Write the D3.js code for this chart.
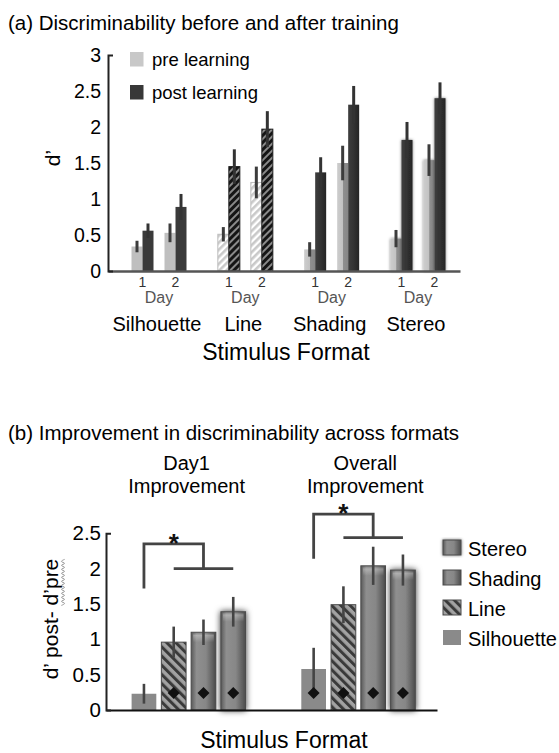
<!DOCTYPE html>
<html>
<head>
<meta charset="utf-8">
<script src="https://cdn.jsdelivr.net/npm/d3@7"></script>
<style>
  body { margin: 0; background: #fff; }
  svg { display: block; font-family: "Liberation Sans", Arial, Helvetica, sans-serif; }
  .title { font-size: 20.5px; fill: #000; }
  .tick-a text { font-size: 19.5px; fill: #000; }
  .tick-b text { font-size: 20.5px; fill: #000; }
  .day-tick { font-size: 14px; fill: #333; }
  .day-word { font-size: 16px; fill: #555; }
  .cat { font-size: 20px; fill: #000; }
  .xtitle { font-size: 23px; fill: #000; }
  .ytitle { font-size: 21px; fill: #000; }
  .legend { font-size: 18.5px; fill: #000; }
  .legend-b { font-size: 20px; fill: #000; }
  .group { font-size: 20px; fill: #000; }
</style>
</head>
<body>
<div id="vis"></div>
<script>
// ---- data ----
const FORMATS = ["Silhouette", "Line", "Shading", "Stereo"];
const DAYS = ["1", "2"];
const PHASES = ["pre", "post"];
const PHASE_LABELS = ["pre learning", "post learning"];

// panel (a): d' per format, [day 1, day 2]
const PRE_MEAN  = [[0.34, 0.53], [0.51, 1.23], [0.30, 1.50], [0.45, 1.54]];
const PRE_ERR   = [[0.08, 0.13], [0.10, 0.22], [0.10, 0.24], [0.12, 0.22]];
const POST_MEAN = [[0.56, 0.89], [1.45, 1.97], [1.37, 2.31], [1.82, 2.40]];
const POST_ERR  = [[0.10, 0.18], [0.24, 0.25], [0.21, 0.26], [0.25, 0.22]];
const TICKS_A = [0, 0.5, 1, 1.5, 2, 2.5, 3];

// panel (b): d' post - d' pre, per group, per format
const GROUPS = ["Day1", "Overall"];
const GROUP_LABELS = [["Day1", "Improvement"], ["Overall", "Improvement"]];
const GAIN_MEAN = [[0.23, 0.96, 1.10, 1.39], [0.58, 1.49, 2.04, 1.98]];
const GAIN_ERR  = [[0.14, 0.22, 0.18, 0.21], [0.30, 0.26, 0.27, 0.22]];
const MARKED    = [[false, true, true, true], [true, true, true, true]];
const MARK_LEVEL = 0.24;
const BRACKET_LOW = [1.72, 2.14];
const BRACKET_TOP = [2.35, 2.77];
const BRACKET_MID = [2.0, 2.44];
const TICKS_B = [0, 0.5, 1, 1.5, 2, 2.5];
const LEGEND_B = ["Stereo", "Shading", "Line", "Silhouette"];

// ---- layout ----
const FRAME_WIDTH = 559;
const FRAME_HEIGHT = 753;
const PANEL_A = {left: 108, right: 460, top: 55, bottom: 271};
const PANEL_B = {left: 106, right: 437, top: 533.3, bottom: 710};

const FRAME = d3.select("#vis")
                .append("svg")
                  .attr("width", FRAME_WIDTH)
                  .attr("height", FRAME_HEIGHT);

FRAME.append("rect").attr("width", FRAME_WIDTH).attr("height", FRAME_HEIGHT).attr("fill", "#fff");

// ---- fills: hatches, bevel gradients, soft shadow ----
const DEFS = FRAME.append("defs");

function hatch(id, bg, fg, angle, period, lw) {
  const p = DEFS.append("pattern")
      .attr("id", id)
      .attr("patternUnits", "userSpaceOnUse")
      .attr("width", period).attr("height", period)
      .attr("patternTransform", "rotate(" + angle + ")");
  p.append("rect").attr("width", period).attr("height", period).attr("fill", bg);
  p.append("rect").attr("width", lw).attr("height", period).attr("fill", fg);
}

function gradient(id, stops, vertical) {
  const g = DEFS.append("linearGradient")
      .attr("id", id)
      .attr("x1", 0).attr("y1", 0)
      .attr("x2", vertical ? 0 : 1).attr("y2", vertical ? 1 : 0);
  stops.forEach(([o, c, a]) => g.append("stop")
      .attr("offset", o).attr("stop-color", c).attr("stop-opacity", a === undefined ? 1 : a));
}

hatch("hatchPreA", "#ffffff", "#c9c9c9", 45, 5, 2.6);
hatch("hatchPostA", "#8a8a8a", "#151515", 45, 5, 3);
hatch("hatchB", "#a2a2a2", "#3a3a3a", -45, 6.5, 3);

gradient("shadePreA", [[0, "#cdcdcd"], [0.5, "#c2c2c2"], [0.56, "#8f8f8f"], [1, "#868686"]]);
gradient("shadePostA", [[0, "#3e3e3e"], [0.5, "#333"], [1, "#242424"]]);
gradient("shadeB", [[0, "#5a5a5a"], [0.22, "#8f8f8f"], [0.6, "#878787"], [1, "#4c4c4c"]]);
gradient("capB", [[0, "#fff", 0.0], [0.25, "#fff", 0.3], [1, "#fff", 0]], true);

function softShadow(id, sd, opacity) {
  const f = DEFS.append("filter").attr("id", id)
      .attr("x", "-60%").attr("y", "-15%").attr("width", "220%").attr("height", "130%");
  f.append("feGaussianBlur").attr("in", "SourceAlpha").attr("stdDeviation", sd).attr("result", "blur");
  f.append("feFlood").attr("flood-color", "#000").attr("flood-opacity", opacity);
  f.append("feComposite").attr("in2", "blur").attr("operator", "in").attr("result", "shadow");
  const m = f.append("feMerge");
  m.append("feMergeNode").attr("in", "shadow");
  m.append("feMergeNode").attr("in", "SourceGraphic");
}
softShadow("blurA", 1.8, 0.55);
softShadow("blurB", 3, 0.8);

const FILL_A = {
  Silhouette: {pre: "#bfbfbf", post: "#3a3a3a"},
  Line:       {pre: "url(#hatchPreA)", post: "url(#hatchPostA)"},
  Shading:    {pre: "url(#shadePreA)", post: "url(#shadePostA)"},
  Stereo:     {pre: "url(#shadePreA)", post: "url(#shadePostA)"}
};
const STROKE_A = {
  Line: {pre: "#bdbdbd", post: "#1e1e1e"}
};
const FILL_B = {
  Silhouette: "#8a8a8a",
  Line: "url(#hatchB)",
  Shading: "url(#shadeB)",
  Stereo: "url(#shadeB)"
};

// =====================================================================
// (a) Discriminability before and after training
// =====================================================================
FRAME.append("text").attr("class", "title").attr("x", 8).attr("y", 30)
     .text("(a) Discriminability before and after training");

const Y_A = d3.scaleLinear().domain([0, 3]).range([PANEL_A.bottom, PANEL_A.top]);
const X_FORMAT_A = d3.scalePoint().domain(FORMATS).range([159, 418]);
const X_DAY_A = d3.scalePoint().domain(DAYS).range([-16.5, 16.5]);
const X_PHASE_A = d3.scaleBand().domain(PHASES).range([-11, 11]);

const barsA = FORMATS.flatMap((f, i) => DAYS.flatMap((d, j) => PHASES.map((p) => ({
  format: f, day: d, phase: p,
  mean: (p === "pre" ? PRE_MEAN : POST_MEAN)[i][j],
  err: (p === "pre" ? PRE_ERR : POST_ERR)[i][j]
}))));

const barX = (d) => X_FORMAT_A(d.format) + X_DAY_A(d.day) + X_PHASE_A(d.phase);

FRAME.append("g").selectAll("rect")
  .data(barsA)
  .enter()
  .append("rect")
    .attr("x", barX)
    .attr("y", (d) => Y_A(d.mean))
    .attr("width", X_PHASE_A.bandwidth())
    .attr("height", (d) => Y_A(0) - Y_A(d.mean))
    .attr("fill", (d) => FILL_A[d.format][d.phase])
    .attr("stroke", (d) => STROKE_A[d.format] ? STROKE_A[d.format][d.phase] : "none")
    .attr("stroke-width", 1)
    .attr("filter", (d) => d.format === "Stereo" ? "url(#blurA)" : null);

FRAME.append("g").selectAll("line")
  .data(barsA)
  .enter()
  .append("line")
    .attr("x1", (d) => barX(d) + X_PHASE_A.bandwidth() / 2)
    .attr("x2", (d) => barX(d) + X_PHASE_A.bandwidth() / 2)
    .attr("y1", (d) => Y_A(d.mean + d.err))
    .attr("y2", (d) => Y_A(d.mean - d.err))
    .attr("stroke", (d) => d.phase === "pre" ? "#3c3c3c" : "#333")
    .attr("stroke-width", 3);

// x baseline
FRAME.append("g")
  .attr("transform", "translate(0," + PANEL_A.bottom + ")")
  .call(d3.axisBottom(d3.scaleLinear().range([PANEL_A.left, PANEL_A.right])).ticks(0).tickSizeOuter(0))
  .select(".domain").attr("stroke", "#555").attr("stroke-width", 2.5);

// y axis
const axisA = FRAME.append("g")
  .attr("class", "tick-a")
  .attr("transform", "translate(" + PANEL_A.left + ",0)")
  .call(d3.axisLeft(Y_A).tickValues(TICKS_A).tickFormat(d3.format("~g"))
          .tickSize(0).tickSizeOuter(-5).tickPadding(7));
axisA.attr("font-family", null).attr("font-size", null);
axisA.select(".domain").attr("stroke", "#222").attr("stroke-width", 2);

// day ticks, "Day", format names
FRAME.append("g").selectAll("text")
  .data(FORMATS.flatMap((f) => DAYS.map((d) => ({format: f, day: d}))))
  .enter()
  .append("text")
    .attr("class", "day-tick")
    .attr("x", (d) => X_FORMAT_A(d.format) + X_DAY_A(d.day))
    .attr("y", 287)
    .attr("text-anchor", "middle")
    .text((d) => d.day);

FRAME.append("g").selectAll("text")
  .data(FORMATS)
  .enter()
  .append("text")
    .attr("class", "day-word")
    .attr("x", (d) => X_FORMAT_A(d))
    .attr("y", 303)
    .attr("text-anchor", "middle")
    .text("Day");

FRAME.append("g").selectAll("text")
  .data(FORMATS)
  .enter()
  .append("text")
    .attr("class", "cat")
    .attr("x", (d) => X_FORMAT_A(d) - 2)
    .attr("y", 331)
    .attr("text-anchor", "middle")
    .text((d) => d);

FRAME.append("text").attr("class", "xtitle")
     .attr("x", 286).attr("y", 360).attr("text-anchor", "middle")
     .text("Stimulus Format");

FRAME.append("text").attr("class", "ytitle")
     .attr("transform", "translate(60,158) rotate(-90)")
     .attr("text-anchor", "middle")
     .text("d’");

// legend (a)
const legendA = FRAME.append("g").selectAll("g")
  .data(PHASES)
  .enter()
  .append("g")
    .attr("transform", (d, i) => "translate(130," + (52 + i * 33) + ")");
legendA.append("rect")
    .attr("width", 13.5).attr("height", 14.5)
    .attr("fill", (d) => d === "pre" ? "#c8c8c8" : "#383838");
legendA.append("text")
    .attr("class", "legend")
    .attr("x", 22).attr("y", 14)
    .text((d, i) => PHASE_LABELS[i]);

// =====================================================================
// (b) Improvement in discriminability across formats
// =====================================================================
FRAME.append("text").attr("class", "title").attr("x", 8).attr("y", 440)
     .text("(b) Improvement in discriminability across formats");

const Y_B = d3.scaleLinear().domain([0, 2.5]).range([PANEL_B.bottom, PANEL_B.top]);
const X_GROUP_B = d3.scalePoint().domain(GROUPS).range([188.6, 358.3]);
const X_FMT_B = d3.scaleBand().domain(FORMATS).range([-57, 57]).paddingInner(0.17);

const barsB = GROUPS.flatMap((g, i) => FORMATS.map((f, j) => ({
  group: g, format: f, mean: GAIN_MEAN[i][j], err: GAIN_ERR[i][j], marked: MARKED[i][j]
})));
const barXB = (d) => X_GROUP_B(d.group) + X_FMT_B(d.format);
const midXB = (g, f) => X_GROUP_B(g) + X_FMT_B(f) + X_FMT_B.bandwidth() / 2;

FRAME.append("g").selectAll("rect")
  .data(barsB)
  .enter()
  .append("rect")
    .attr("x", barXB)
    .attr("y", (d) => Y_B(d.mean))
    .attr("width", X_FMT_B.bandwidth())
    .attr("height", (d) => Y_B(0) - Y_B(d.mean))
    .attr("fill", (d) => FILL_B[d.format])
    .attr("stroke", (d) => d.format === "Silhouette" ? "none" : "#4a4a4a")
    .attr("stroke-width", 1)
    .attr("filter", (d) => d.format === "Stereo" ? "url(#blurB)" : null);

// highlight cap on bevelled bars
FRAME.append("g").selectAll("rect")
  .data(barsB.filter((d) => d.format === "Shading" || d.format === "Stereo"))
  .enter()
  .append("rect")
    .attr("x", (d) => barXB(d) + 2)
    .attr("y", (d) => Y_B(d.mean) + 1)
    .attr("width", X_FMT_B.bandwidth() - 4)
    .attr("height", 9)
    .attr("fill", "url(#capB)");

FRAME.append("g").selectAll("line")
  .data(barsB)
  .enter()
  .append("line")
    .attr("x1", (d) => midXB(d.group, d.format))
    .attr("x2", (d) => midXB(d.group, d.format))
    .attr("y1", (d) => Y_B(d.mean + d.err))
    .attr("y2", (d) => Y_B(d.mean - d.err))
    .attr("stroke", "#444")
    .attr("stroke-width", 2.6);

FRAME.append("g").selectAll("path")
  .data(barsB.filter((d) => d.marked))
  .enter()
  .append("path")
    .attr("transform", (d) => "translate(" + midXB(d.group, d.format) + "," + Y_B(MARK_LEVEL) + ") rotate(45)")
    .attr("d", d3.symbol(d3.symbolSquare, 72))
    .attr("fill", "#111");

// significance brackets
const LINE = d3.line();
GROUPS.forEach((g, i) => {
  const xl = midXB(g, "Silhouette");
  const xs = midXB(g, "Shading");
  FRAME.append("path")
    .attr("d", LINE([[xl, Y_B(BRACKET_LOW[i])], [xl, Y_B(BRACKET_TOP[i])],
                     [xs, Y_B(BRACKET_TOP[i])], [xs, Y_B(BRACKET_MID[i])]]))
    .attr("fill", "none").attr("stroke", "#444").attr("stroke-width", 2.8);
  FRAME.append("path")
    .attr("d", LINE([[midXB(g, "Line"), Y_B(BRACKET_MID[i])], [midXB(g, "Stereo"), Y_B(BRACKET_MID[i])]]))
    .attr("fill", "none").attr("stroke", "#444").attr("stroke-width", 2.8);
  FRAME.append("text")
    .attr("x", (xl + xs) / 2)
    .attr("y", Y_B(BRACKET_TOP[i]) + 8)
    .attr("text-anchor", "middle")
    .attr("font-size", 26).attr("font-weight", "bold").attr("fill", "#111")
    .text("*");
});

// x baseline
FRAME.append("g")
  .attr("transform", "translate(0," + PANEL_B.bottom + ")")
  .call(d3.axisBottom(d3.scaleLinear().range([PANEL_B.left, PANEL_B.right])).ticks(0).tickSizeOuter(0))
  .select(".domain").attr("stroke", "#111").attr("stroke-width", 2);

const axisB = FRAME.append("g")
  .attr("class", "tick-b")
  .attr("transform", "translate(" + PANEL_B.left + ",0)")
  .call(d3.axisLeft(Y_B).tickValues(TICKS_B).tickFormat(d3.format("~g"))
          .tickSize(0).tickSizeOuter(-5).tickPadding(5));
axisB.attr("font-family", null).attr("font-size", null);
axisB.select(".domain").attr("stroke", "#222").attr("stroke-width", 2);

// group headings
GROUPS.forEach((g, i) => {
  FRAME.append("text").attr("class", "group")
    .attr("x", X_GROUP_B(g) + (i === 0 ? -2 : 7)).attr("y", 470)
    .attr("text-anchor", "middle")
    .selectAll("tspan")
    .data(GROUP_LABELS[i])
    .enter()
    .append("tspan")
      .attr("x", X_GROUP_B(g) + (i === 0 ? -2 : 7))
      .attr("dy", (d, k) => k === 0 ? 0 : 22.5)
      .text((d) => d);
});

FRAME.append("text").attr("class", "xtitle")
     .attr("x", 284).attr("y", 748).attr("text-anchor", "middle")
     .text("Stimulus Format");

const yTitleB = FRAME.append("text").attr("class", "ytitle")
     .attr("transform", "translate(58,619) rotate(-90)")
     .attr("text-anchor", "middle")
     .attr("font-size", 22)
     .text("d’ post- d’pre");

// spell-check squiggle under "d’pre"
const first = yTitleB.node().getExtentOfChar(9);
const last = yTitleB.node().getExtentOfChar(13);
const wave = d3.range(first.x, last.x + last.width, 2).map((x, k) => [x, 5 + (k % 2 ? 1.6 : -1.6)]);
FRAME.append("path")
  .attr("transform", "translate(58,619) rotate(-90)")
  .attr("d", d3.line().curve(d3.curveMonotoneX)(wave))
  .attr("fill", "none").attr("stroke", "#999").attr("stroke-width", 1);

// legend (b)
const legendB = FRAME.append("g").selectAll("g")
  .data(LEGEND_B)
  .enter()
  .append("g")
    .attr("transform", (d, i) => "translate(443," + (540 + i * 30) + ")");
legendB.append("rect")
    .attr("width", 18).attr("height", 15)
    .attr("fill", (d) => FILL_B[d])
    .attr("stroke", (d) => d === "Silhouette" ? "none" : "#4a4a4a")
    .attr("filter", (d) => d === "Stereo" ? "url(#blurA)" : null);
legendB.append("text")
    .attr("class", "legend-b")
    .attr("x", 25).attr("y", 16)
    .text((d) => d);
</script>
</body>
</html>
